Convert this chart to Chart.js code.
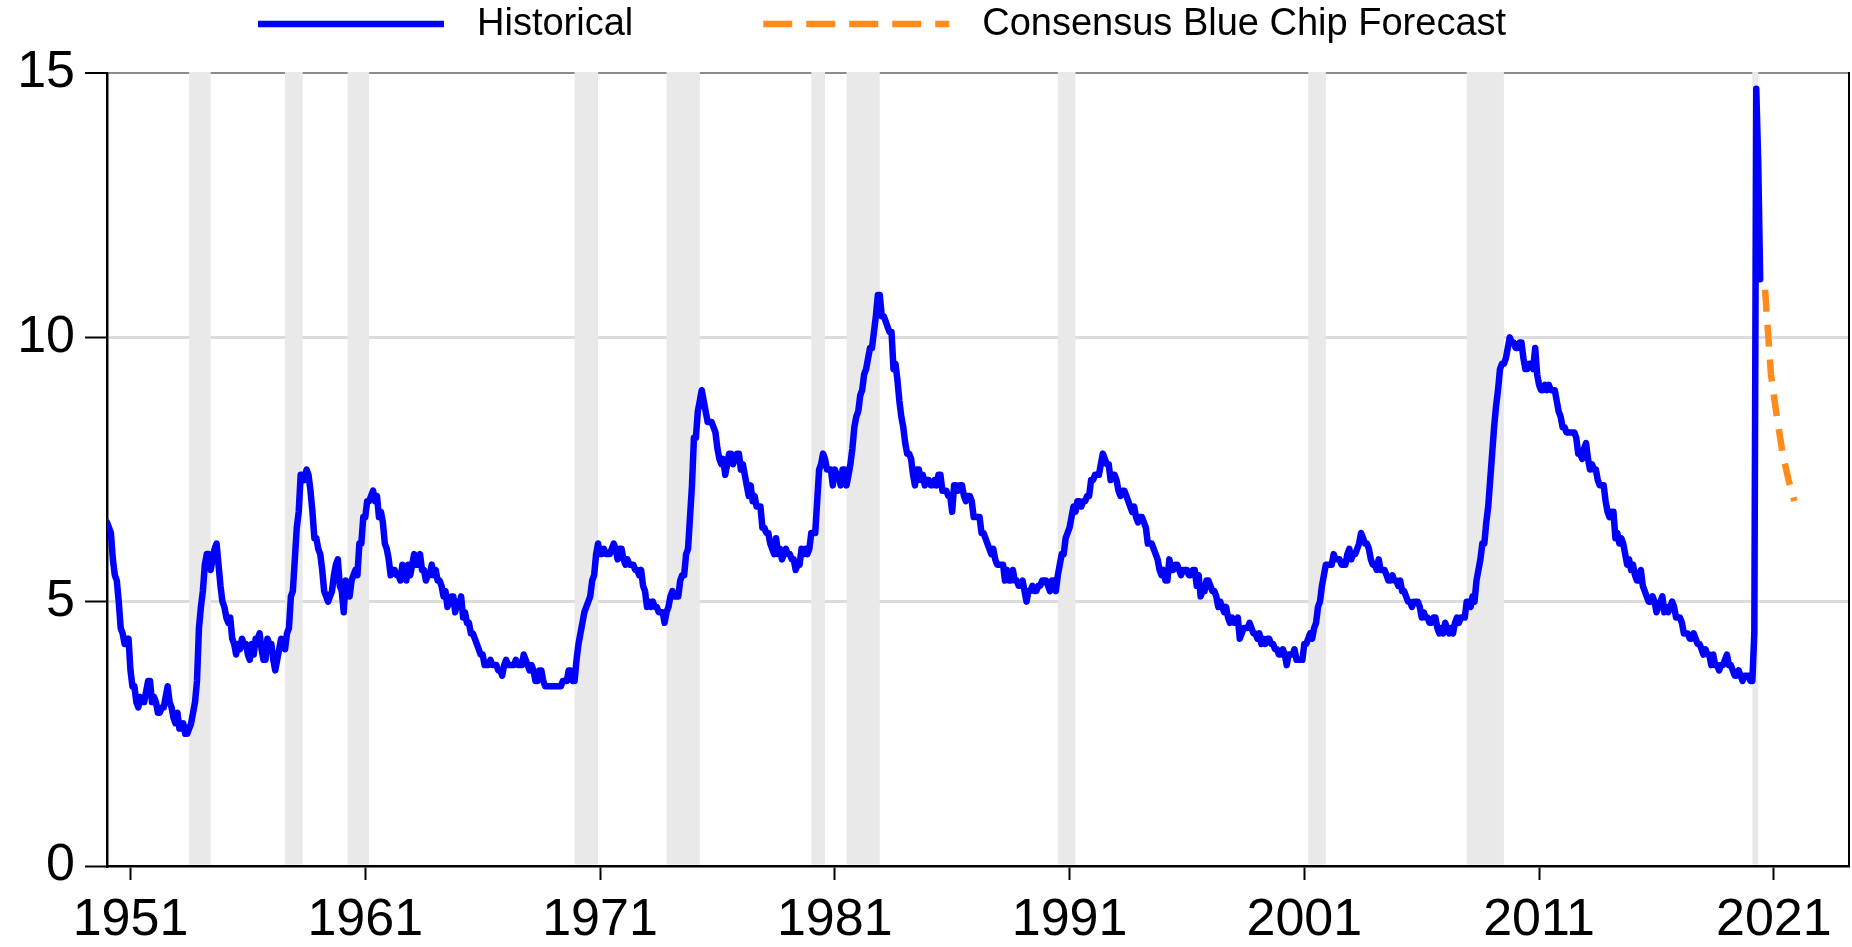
<!DOCTYPE html>
<html>
<head>
<meta charset="utf-8">
<title>Unemployment rate: historical and Blue Chip forecast</title>
<script src="https://cdn.jsdelivr.net/npm/chart.js@4.4.0/dist/chart.umd.min.js"></script>
<style>
    html, body { margin: 0; padding: 0; background: #fff; }
    #wrap { width: 1852px; height: 947px; position: relative; }
</style>
</head>
<body>
<div id="wrap"><canvas id="chart"></canvas></div>
<script>
// Monthly unemployment rate (%), starting January 1950
const startYear = 1950;
const historical = [
    6.5, 6.4, 6.3, 5.8, 5.5, 5.4, 5.0, 4.5, 4.4, 4.2, 4.2, 4.3,   // 1950
    3.7, 3.4, 3.4, 3.1, 3.0, 3.2, 3.1, 3.1, 3.3, 3.5, 3.5, 3.1,   // 1951
    3.2, 3.1, 2.9, 2.9, 3.0, 3.0, 3.2, 3.4, 3.1, 3.0, 2.8, 2.7,   // 1952
    2.9, 2.6, 2.6, 2.7, 2.5, 2.5, 2.6, 2.7, 2.9, 3.1, 3.5, 4.5,   // 1953
    4.9, 5.2, 5.7, 5.9, 5.9, 5.6, 5.8, 6.0, 6.1, 5.7, 5.3, 5.0,   // 1954
    4.9, 4.7, 4.6, 4.7, 4.3, 4.2, 4.0, 4.2, 4.1, 4.3, 4.2, 4.2,   // 1955
    4.0, 3.9, 4.2, 4.0, 4.3, 4.3, 4.4, 4.1, 3.9, 3.9, 4.3, 4.2,   // 1956
    4.2, 3.9, 3.7, 3.9, 4.1, 4.3, 4.2, 4.1, 4.4, 4.5, 5.1, 5.2,   // 1957
    5.8, 6.4, 6.7, 7.4, 7.4, 7.3, 7.5, 7.4, 7.1, 6.7, 6.2, 6.2,   // 1958
    6.0, 5.9, 5.6, 5.2, 5.1, 5.0, 5.1, 5.2, 5.5, 5.7, 5.8, 5.3,   // 1959
    5.2, 4.8, 5.4, 5.2, 5.1, 5.4, 5.5, 5.6, 5.5, 6.1, 6.1, 6.6,   // 1960
    6.6, 6.9, 6.9, 7.0, 7.1, 6.9, 7.0, 6.6, 6.7, 6.5, 6.1, 6.0,   // 1961
    5.8, 5.5, 5.6, 5.6, 5.5, 5.5, 5.4, 5.7, 5.6, 5.4, 5.7, 5.5,   // 1962
    5.7, 5.9, 5.7, 5.7, 5.9, 5.6, 5.6, 5.4, 5.5, 5.5, 5.7, 5.5,   // 1963
    5.6, 5.4, 5.4, 5.3, 5.1, 5.2, 4.9, 5.0, 5.1, 5.1, 4.8, 5.0,   // 1964
    4.9, 5.1, 4.7, 4.8, 4.6, 4.6, 4.4, 4.4, 4.3, 4.2, 4.1, 4.0,   // 1965
    4.0, 3.8, 3.8, 3.8, 3.9, 3.8, 3.8, 3.8, 3.7, 3.7, 3.6, 3.8,   // 1966
    3.9, 3.8, 3.8, 3.8, 3.8, 3.9, 3.8, 3.8, 3.8, 4.0, 3.9, 3.8,   // 1967
    3.7, 3.8, 3.7, 3.5, 3.5, 3.7, 3.7, 3.5, 3.4, 3.4, 3.4, 3.4,   // 1968
    3.4, 3.4, 3.4, 3.4, 3.4, 3.5, 3.5, 3.5, 3.7, 3.7, 3.5, 3.5,   // 1969
    3.9, 4.2, 4.4, 4.6, 4.8, 4.9, 5.0, 5.1, 5.4, 5.5, 5.9, 6.1,   // 1970
    5.9, 5.9, 6.0, 5.9, 5.9, 5.9, 6.0, 6.1, 6.0, 5.8, 6.0, 6.0,   // 1971
    5.8, 5.7, 5.8, 5.7, 5.7, 5.7, 5.6, 5.6, 5.5, 5.6, 5.3, 5.2,   // 1972
    4.9, 5.0, 4.9, 5.0, 4.9, 4.9, 4.8, 4.8, 4.8, 4.6, 4.8, 4.9,   // 1973
    5.1, 5.2, 5.1, 5.1, 5.1, 5.4, 5.5, 5.5, 5.9, 6.0, 6.6, 7.2,   // 1974
    8.1, 8.1, 8.6, 8.8, 9.0, 8.8, 8.6, 8.4, 8.4, 8.4, 8.3, 8.2,   // 1975
    7.9, 7.7, 7.6, 7.7, 7.4, 7.6, 7.8, 7.8, 7.6, 7.7, 7.8, 7.8,   // 1976
    7.5, 7.6, 7.4, 7.2, 7.0, 7.2, 6.9, 7.0, 6.8, 6.8, 6.8, 6.4,   // 1977
    6.4, 6.3, 6.3, 6.1, 6.0, 5.9, 6.2, 5.9, 6.0, 5.8, 5.9, 6.0,   // 1978
    5.9, 5.9, 5.8, 5.8, 5.6, 5.7, 5.7, 6.0, 5.9, 6.0, 5.9, 6.0,   // 1979
    6.3, 6.3, 6.3, 6.9, 7.5, 7.6, 7.8, 7.7, 7.5, 7.5, 7.5, 7.2,   // 1980
    7.5, 7.4, 7.4, 7.2, 7.5, 7.5, 7.2, 7.4, 7.6, 7.9, 8.3, 8.5,   // 1981
    8.6, 8.9, 9.0, 9.3, 9.4, 9.6, 9.8, 9.8, 10.1, 10.4, 10.8, 10.8, // 1982
    10.4, 10.4, 10.3, 10.2, 10.1, 10.1, 9.4, 9.5, 9.2, 8.8, 8.5, 8.3, // 1983
    8.0, 7.8, 7.8, 7.7, 7.4, 7.2, 7.5, 7.5, 7.3, 7.4, 7.2, 7.3,   // 1984
    7.3, 7.2, 7.2, 7.3, 7.2, 7.4, 7.4, 7.1, 7.1, 7.1, 7.0, 7.0,   // 1985
    6.7, 7.2, 7.2, 7.1, 7.2, 7.2, 7.0, 6.9, 7.0, 7.0, 6.9, 6.6,   // 1986
    6.6, 6.6, 6.6, 6.3, 6.3, 6.2, 6.1, 6.0, 5.9, 6.0, 5.8, 5.7,   // 1987
    5.7, 5.7, 5.7, 5.4, 5.6, 5.4, 5.4, 5.6, 5.4, 5.4, 5.3, 5.3,   // 1988
    5.4, 5.2, 5.0, 5.2, 5.2, 5.3, 5.2, 5.2, 5.3, 5.3, 5.4, 5.4,   // 1989
    5.4, 5.3, 5.2, 5.4, 5.4, 5.2, 5.5, 5.7, 5.9, 5.9, 6.2, 6.3,   // 1990
    6.4, 6.6, 6.8, 6.7, 6.9, 6.9, 6.8, 6.9, 6.9, 7.0, 7.0, 7.3,   // 1991
    7.3, 7.4, 7.4, 7.4, 7.6, 7.8, 7.7, 7.6, 7.6, 7.3, 7.4, 7.4,   // 1992
    7.3, 7.1, 7.0, 7.1, 7.1, 7.0, 6.9, 6.8, 6.7, 6.8, 6.6, 6.5,   // 1993
    6.6, 6.6, 6.5, 6.4, 6.1, 6.1, 6.1, 6.0, 5.9, 5.8, 5.6, 5.5,   // 1994
    5.6, 5.4, 5.4, 5.8, 5.6, 5.6, 5.7, 5.7, 5.6, 5.5, 5.6, 5.6,   // 1995
    5.6, 5.5, 5.5, 5.6, 5.6, 5.3, 5.5, 5.1, 5.2, 5.2, 5.4, 5.4,   // 1996
    5.3, 5.2, 5.2, 5.1, 4.9, 5.0, 4.9, 4.8, 4.9, 4.7, 4.6, 4.7,   // 1997
    4.6, 4.6, 4.7, 4.3, 4.4, 4.5, 4.5, 4.5, 4.6, 4.5, 4.4, 4.4,   // 1998
    4.3, 4.4, 4.2, 4.3, 4.2, 4.3, 4.3, 4.2, 4.2, 4.1, 4.1, 4.0,   // 1999
    4.0, 4.1, 4.0, 3.8, 4.0, 4.0, 4.0, 4.1, 3.9, 3.9, 3.9, 3.9,   // 2000
    4.2, 4.2, 4.3, 4.4, 4.3, 4.5, 4.6, 4.9, 5.0, 5.3, 5.5, 5.7,   // 2001
    5.7, 5.7, 5.7, 5.9, 5.8, 5.8, 5.8, 5.7, 5.7, 5.7, 5.9, 6.0,   // 2002
    5.8, 5.9, 5.9, 6.0, 6.1, 6.3, 6.2, 6.1, 6.1, 6.0, 5.8, 5.7,   // 2003
    5.7, 5.6, 5.8, 5.6, 5.6, 5.6, 5.5, 5.4, 5.4, 5.5, 5.4, 5.4,   // 2004
    5.3, 5.4, 5.2, 5.2, 5.1, 5.0, 5.0, 4.9, 5.0, 5.0, 5.0, 4.9,   // 2005
    4.7, 4.8, 4.7, 4.7, 4.6, 4.6, 4.7, 4.7, 4.5, 4.4, 4.5, 4.4,   // 2006
    4.6, 4.5, 4.4, 4.5, 4.4, 4.6, 4.7, 4.6, 4.7, 4.7, 4.7, 5.0,   // 2007
    5.0, 4.9, 5.1, 5.0, 5.4, 5.6, 5.8, 6.1, 6.1, 6.5, 6.8, 7.3,   // 2008
    7.8, 8.3, 8.7, 9.0, 9.4, 9.5, 9.5, 9.6, 9.8, 10.0, 9.9, 9.9,  // 2009
    9.8, 9.8, 9.9, 9.9, 9.6, 9.4, 9.4, 9.5, 9.5, 9.4, 9.8, 9.3,   // 2010
    9.1, 9.0, 9.0, 9.1, 9.0, 9.1, 9.0, 9.0, 9.0, 8.8, 8.6, 8.5,   // 2011
    8.3, 8.3, 8.2, 8.2, 8.2, 8.2, 8.2, 8.1, 7.8, 7.8, 7.7, 7.9,   // 2012
    8.0, 7.7, 7.5, 7.6, 7.5, 7.5, 7.3, 7.2, 7.2, 7.2, 6.9, 6.7,   // 2013
    6.6, 6.7, 6.7, 6.2, 6.3, 6.1, 6.2, 6.1, 5.9, 5.7, 5.8, 5.6,   // 2014
    5.7, 5.5, 5.4, 5.4, 5.6, 5.3, 5.2, 5.1, 5.0, 5.0, 5.1, 5.0,   // 2015
    4.8, 4.9, 5.0, 5.1, 4.8, 4.9, 4.8, 4.9, 5.0, 4.9, 4.7, 4.7,   // 2016
    4.7, 4.6, 4.4, 4.4, 4.4, 4.3, 4.3, 4.4, 4.3, 4.2, 4.2, 4.1,   // 2017
    4.0, 4.1, 4.0, 4.0, 3.8, 4.0, 3.8, 3.8, 3.7, 3.8, 3.8, 3.9,   // 2018
    4.0, 3.8, 3.8, 3.7, 3.6, 3.6, 3.7, 3.6, 3.5, 3.6, 3.6, 3.6,   // 2019
    3.5, 3.5, 4.4, 14.7, 13.3, 11.1                               // 2020
];

// Consensus Blue Chip forecast, quarterly
const forecastQuarters = ['2020Q3', '2020Q4', '2021Q1', '2021Q2', '2021Q3', '2021Q4'];
const forecast = [10.9, 9.3, 8.5, 7.8, 7.3, 6.9];

// NBER recessions (peak month, trough month)
const recessionStarts = ['1953-07', '1957-08', '1960-04', '1969-12', '1973-11', '1980-01',
                         '1981-07', '1990-07', '2001-03', '2007-12', '2020-02'];
const recessionEnds   = ['1954-05', '1958-04', '1961-02', '1970-11', '1975-03', '1980-07',
                         '1982-11', '1991-03', '2001-11', '2009-06', '2020-04'];

const xTickYears = [1951, 1961, 1971, 1981, 1991, 2001, 2011, 2021];
const seriesLabels = ['Historical', 'Consensus Blue Chip Forecast'];

const colors = {
    historical: '#0000ff',
    forecast: 'rgb(255, 140, 26)',
    recession: '#e9e9e9',
    grid: '#dcdcdc',
    frameTop: '#8c8c8c',
    axis: '#000000'
};

// helpers to turn dates into decimal years on the linear x scale
function monthToX(i) { return startYear + i / 12; }
function ymToX(s) { const [y, m] = s.split('-').map(Number); return y + (m - 1) / 12; }
function quarterToX(s) { const y = Number(s.slice(0, 4)); const q = Number(s.slice(5)); return y + (q - 1) / 4 + 1 / 8; }

const historicalPoints = historical.map((v, i) => ({ x: monthToX(i), y: v }));
const forecastPoints = forecast.map((v, i) => ({ x: quarterToX(forecastQuarters[i]), y: v }));

// Gray recession bars behind the lines, plus the right-hand frame
const recessionShading = {
    id: 'recessionShading',
    beforeDatasetsDraw(chart) {
        const { ctx, chartArea, scales: { x } } = chart;
        ctx.save();
        ctx.fillStyle = colors.recession;
        for (let i = 0; i < recessionStarts.length; i++) {
            const x0 = x.getPixelForValue(ymToX(recessionStarts[i]));
            const x1 = x.getPixelForValue(ymToX(recessionEnds[i]) + 1 / 12);
            ctx.fillRect(x0, chartArea.top - 1, x1 - x0, chartArea.bottom - chartArea.top - 0.5);
        }
        ctx.restore();
    },
    afterDatasetsDraw(chart) {
        const { ctx, chartArea } = chart;
        ctx.save();
        ctx.strokeStyle = colors.axis;
        ctx.lineWidth = 2;
        ctx.beginPath();
        ctx.moveTo(chartArea.right, chartArea.top - 1);
        ctx.lineTo(chartArea.right, chartArea.bottom);
        ctx.stroke();
        ctx.restore();
    }
};

// Legend across the top with long line samples
const lineLegend = {
    id: 'lineLegend',
    afterDraw(chart) {
        const { ctx } = chart;
        const sampleWidth = 186, textGap = 33, itemGap = 130, yMid = 24;
        let xPos = 258;
        ctx.save();
        ctx.font = '38px "Liberation Sans", Arial, sans-serif';
        ctx.textBaseline = 'middle';
        ctx.textAlign = 'left';
        chart.data.datasets.forEach((ds) => {
            ctx.strokeStyle = ds.borderColor;
            ctx.lineWidth = 6.5;
            ctx.lineCap = 'butt';
            ctx.setLineDash(ds.borderDash && ds.borderDash.length ? [29, 14] : []);
            ctx.beginPath();
            ctx.moveTo(xPos, yMid);
            ctx.lineTo(xPos + sampleWidth, yMid);
            ctx.stroke();
            ctx.setLineDash([]);
            ctx.fillStyle = '#000';
            const tx = xPos + sampleWidth + textGap;
            ctx.fillText(ds.label, tx, yMid + 1);
            xPos = tx + ctx.measureText(ds.label).width + itemGap;
        });
        ctx.restore();
    }
};

const tickFont = { family: '"Liberation Sans", Arial, sans-serif', size: 52 };

new Chart(document.getElementById('chart'), {
    type: 'line',
    data: {
        datasets: [
            {
                label: seriesLabels[0],
                data: historicalPoints,
                borderColor: colors.historical,
                borderWidth: 6.5,
                borderJoinStyle: 'round',
                borderCapStyle: 'round',
                pointRadius: 0,
                tension: 0
            },
            {
                label: seriesLabels[1],
                data: forecastPoints,
                borderColor: colors.forecast,
                borderWidth: 6.5,
                borderDash: [22, 13],
                pointRadius: 0,
                tension: 0
            }
        ]
    },
    options: {
        responsive: true,
        maintainAspectRatio: false,
        animation: false,
        layout: { padding: { top: 73, right: 3, bottom: 0, left: 0 } },
        plugins: {
            legend: { display: false },
            tooltip: { enabled: false }
        },
        scales: {
            x: {
                type: 'linear',
                min: 1950,
                max: 2024.2,
                afterBuildTicks(scale) {
                    scale.ticks = xTickYears.map(v => ({ value: v }));
                },
                afterFit(scale) { scale.height = 81; },
                ticks: {
                    autoSkip: false,
                    maxRotation: 0,
                    padding: 9,
                    color: '#000',
                    font: tickFont,
                    callback: v => String(v)
                },
                grid: {
                    drawOnChartArea: false,
                    tickLength: 14,
                    tickColor: colors.axis,
                    tickWidth: 2
                },
                border: { color: colors.axis, width: 2.5 }
            },
            y: {
                min: 0,
                max: 15,
                afterFit(scale) { scale.width = 107; },
                ticks: {
                    stepSize: 5,
                    padding: 10,
                    color: '#000',
                    font: tickFont
                },
                grid: {
                    color: c => c.tick && c.tick.value === 15 ? colors.frameTop : (c.tick && c.tick.value === 0 ? 'rgba(0,0,0,0)' : colors.grid),
                    lineWidth: c => c.tick && c.tick.value === 15 ? 2 : 3,
                    tickLength: 22,
                    tickColor: colors.axis,
                    tickWidth: 2
                },
                border: { color: colors.axis, width: 2.5 }
            }
        }
    },
    plugins: [recessionShading, lineLegend]
});
</script>
</body>
</html>
